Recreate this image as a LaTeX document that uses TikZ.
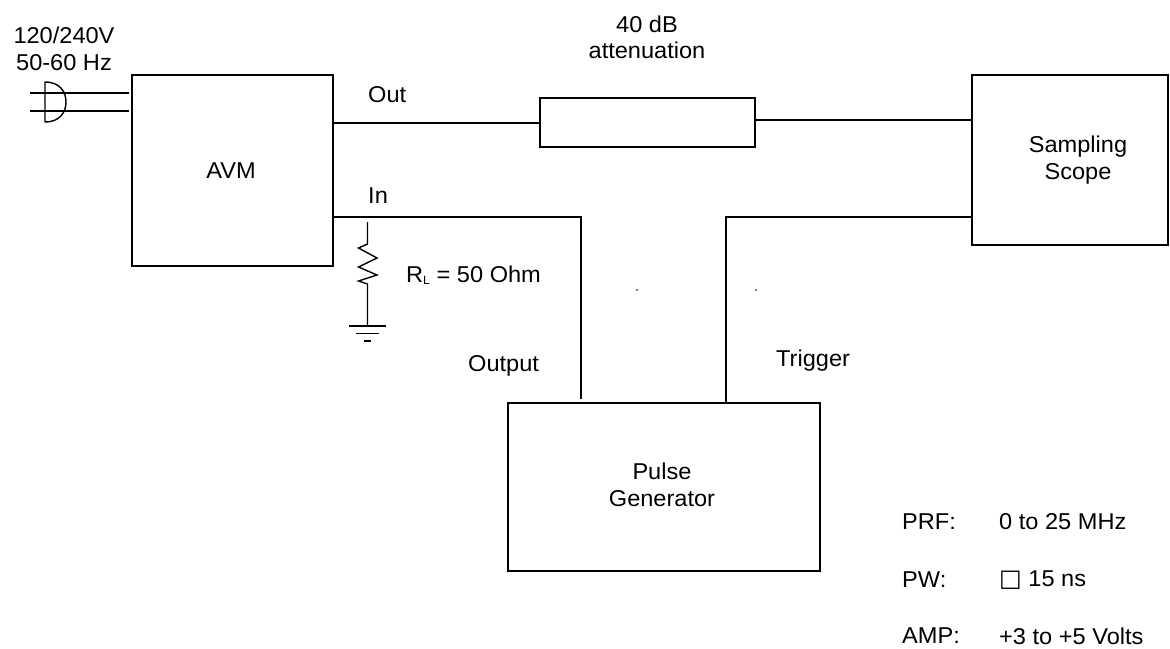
\documentclass[tikz,border=0pt]{standalone}
\usepackage{fontspec}
\setmainfont[FakeStretch=1.03]{Liberation Sans}
\newfontfamily\symbolfont{DejaVu Sans}
\usepackage{tikz}
\usetikzlibrary{positioning}
\tikzstyle{block} = [rectangle, draw, line width=2pt, inner sep=0pt, outer sep=0pt]
\tikzstyle{label} = [inner sep=0pt, align=center, font=\fontsize{22.9}{26.5}\selectfont]
\tikzstyle{tag} = [label, anchor=west]
\tikzstyle{line} = [draw, line width=2pt]
\tikzstyle{thin line} = [draw, line width=1.4pt]

\begin{document}
\begin{tikzpicture}[x=1pt, y=-1pt]
	\useasboundingbox (0,0) rectangle (1170,648);
	
	% Place nodes
	\node [block, minimum width=201, minimum height=191] (AVM)              at (232.5,170.5) {};
	\node [block, minimum width=215, minimum height=49]  (Attenuator)       at (647.5,122.5) {};
	\node [block, minimum width=196, minimum height=170] (Scope)            at (1070,160)    {};
	\node [block, minimum width=312, minimum height=168] (Pulse Generator)  at (664,487)     {};
	
	% Place labels
	\node [label] (AVM Name)       at (231,171)   {AVM};
	\node [label] (Scope Name)     at (1078,160)  {Sampling\\Scope};
	\node [label] (Generator Name) at (662,485)   {Pulse\\Generator};
	\node [label] (Mains)       at (64,49)   {120/240V\\50-60 Hz};
	\node [label] (Attenuation) at (647,37.5) {40 dB\\attenuation};
	\node [tag]   (Out)         at (368,95)  {Out};
	\node [tag]   (In)          at (368,196) {In};
	\node [tag]   (Load)        at (406,275) {R\raisebox{-2pt}{\fontsize{12}{12}\selectfont L} = 50 Ohm};
	\node [tag]   (Output)      at (468,366) {Output};
	\node [tag]   (Trigger)     at (776,361) {Trigger};
	\node [tag]   (PRF)         at (902,522) {PRF:};
	\node [tag]   (PRF Value)   at (999,522) {0 to 25 MHz};
	\node [tag]   (PW)          at (902,580) {PW:};
	\node [tag]   (PW Value)    at (999,580) {{\symbolfont\fontsize{24}{24}\selectfont □} 15 ns};
	\node [tag]   (AMP)         at (902,636) {AMP:};
	\node [tag]   (AMP Value)   at (999,636) {+3 to +5 Volts};
	
	% Place corners and free ends
	\coordinate (In Corner)      at (581,217);
	\coordinate (Output End)     at (581,399);
	\coordinate (Trigger Corner) at (726,217);
	\coordinate (Load Top)       at (367.5,222);
	\coordinate (Load In)        at (367.5,244);
	\coordinate (Load Out)       at (367.5,284);
	\coordinate (Ground)         at (367.5,326);
	\coordinate (Plug Top)       at (30,93);
	\coordinate (Plug Bottom)    at (30,111);
	\coordinate (Cord Top)       at (129,93);
	\coordinate (Cord Bottom)    at (129,111);
	
	%Draw edges
	\path [line] (AVM.east |- Attenuator.west) -- (Attenuator.west);
	\path [line] ([yshift=2.5]Attenuator.east) -- ([yshift=2.5]Attenuator.east -| Scope.west);
	\path [line] (AVM.east |- In Corner)       -- (In Corner) -- (Output End);
	\path [line] (Scope.west |- Trigger Corner) -- (Trigger Corner) -- (Trigger Corner |- Pulse Generator.north);
	
	%Draw load and ground
	\path [thin line] (Load Top) -- (Load In) -- (358.5,248) -- (377,258) -- (358.5,267) -- (377,275) -- (358.5,281) -- (Load Out) -- (Ground);
	\path [thin line] ([xshift=-18.5]Ground) -- ([xshift=18.5]Ground);
	\path [thin line] ([xshift=-11.5,yshift=-7.5]Ground) -- ([xshift=11.5,yshift=-7.5]Ground);
	\path [thin line] ([xshift=-3.5,yshift=-15]Ground) -- ([xshift=3.5,yshift=-15]Ground);
	
	%Draw plug
	\path [thin line] (Plug Top)    -- (Cord Top);
	\path [thin line] (Plug Bottom) -- (Cord Bottom);
	\path [thin line] (45,82) .. controls (60,82) and (66,92) .. (66,102) .. controls (66,112) and (60,122) .. (45,122) -- cycle;
	
	%Draw specks
	\fill (637,290) circle (0.8);
	\fill (756,290) circle (0.8);
	
\end{tikzpicture}
\end{document}
